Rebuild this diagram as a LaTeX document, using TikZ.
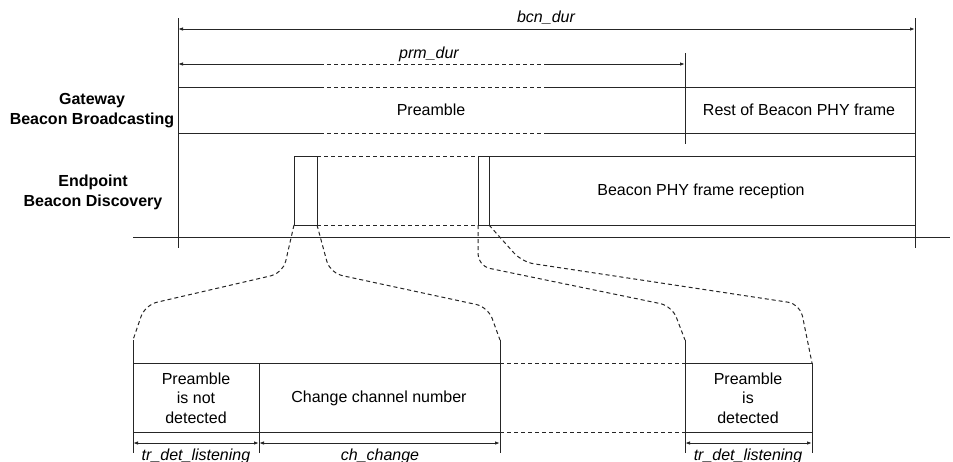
\documentclass[tikz,border=0pt]{standalone}
\usepackage{fontspec}
\setmainfont{Liberation Sans}
\usetikzlibrary{arrows.meta}
\begin{document}
\begin{tikzpicture}[x=1pt,y=-1pt,
  ln/.style={line width=1pt, draw=black!85},
  dsh/.style={ln, dash pattern=on 4pt off 3pt},
  tipl/.style={ln, {Latex[length=5pt,width=3.5pt]}-},
  tipr/.style={ln, -{Latex[length=5pt,width=3.5pt]}},
  dimarr/.style={ln, {Latex[length=5pt,width=3.5pt]}-{Latex[length=5pt,width=3.5pt]}},
  lbl/.style={font=\fontsize{16}{19.5}\selectfont, inner sep=0pt, align=center},
  ilbl/.style={lbl, font=\fontsize{16}{19.5}\selectfont\itshape},
  blbl/.style={lbl, font=\fontsize{16}{20}\selectfont\bfseries},
  brace/.style={dsh, rounded corners=12pt}]
\useasboundingbox (0,0) rectangle (953,461);
\clip (0,0) rectangle (953,461);

% main time references
\coordinate (L0) at (178,18);  \coordinate (L1) at (178,248);
\coordinate (R0) at (915,18);  \coordinate (R1) at (915,248);
\draw[ln] (L0) -- (L1);
\draw[ln] (R0) -- (R1);
\coordinate (ax0) at (133,237); \coordinate (ax1) at (950,237);
\draw[ln] (ax0) -- (ax1);

% bcn_dur
\coordinate (b0) at (178,29); \coordinate (b1) at (915,29);
\draw[dimarr] (b0) -- (b1);
\node[ilbl, anchor=base] (bcn) at (546,22) {bcn\_dur};

% prm_dur
\coordinate (p0) at (178,64); \coordinate (p1) at (320,64);
\coordinate (p2) at (545,64); \coordinate (p3) at (685,64);
\draw[tipl] (p0) -- (p1);
\draw[dsh] (p1) -- (p2);
\draw[tipr] (p2) -- (p3);
\node[ilbl, anchor=base] (prm) at (429,58) {prm\_dur};
\coordinate (pv0) at (685,53); \coordinate (pv1) at (685,144);
\draw[ln] (pv0) -- (pv1);

% gateway row
\foreach \y in {87,133}{
  \draw[ln] (178,\y) -- (320,\y);
  \draw[dsh] (320,\y) -- (545,\y);
  \draw[ln] (545,\y) -- (915,\y);
}
\node[lbl] (pre) at (431,110) {Preamble};
\node[lbl] (rest) at (799,110) {Rest of Beacon PHY frame};
\node[blbl] (gw) at (92,111) {Gateway\\Beacon Broadcasting};

% endpoint row
\node[blbl] (ep) at (93,192) {Endpoint\\Beacon Discovery};
\draw[ln] (294,156) rectangle (317,225);
\draw[dsh] (317,156) -- (478,156);
\draw[dsh] (317,225) -- (478,225);
\draw[ln] (478,156) rectangle (489,225);
\draw[ln] (489,156) rectangle (915,225);
\node[lbl] (rx) at (701,191) {Beacon PHY frame reception};

% zoom braces
\draw[brace] (294,225) -- (283,273) -- (145,305) -- (133,340);
\draw[brace] (317,225) -- (330,273) -- (488,307) -- (500,340);
\draw[brace] (478,225) -- (478,266) -- (672,306) -- (685,340);
\draw[brace] (489,225) -- (522,262) -- (800,304) -- (812,363);

% bottom detail
\draw[ln] (133,363) -- (500,363);
\draw[ln] (133,432) -- (500,432);
\draw[dsh] (500,363) -- (685,363);
\draw[dsh] (500,432) -- (685,432);
\draw[ln] (685,363) -- (812,363);
\draw[ln] (685,432) -- (812,432);
\draw[ln] (133,340) -- (133,453);
\draw[ln] (259,363) -- (259,453);
\draw[ln] (500,340) -- (500,453);
\draw[ln] (685,340) -- (685,453);
\draw[ln] (812,363) -- (812,453);

\node[lbl] (nd) at (196,398) {Preamble\\is not\\detected};
\node[lbl] (cc) at (379,398) {Change channel number};
\node[lbl] (dd) at (748,398) {Preamble\\is\\detected};

\draw[dimarr] (133,443) -- (259,443);
\draw[dimarr] (259,443) -- (500,443);
\draw[dimarr] (685,443) -- (812,443);
\node[ilbl, anchor=base] (t1) at (196,460) {tr\_det\_listening};
\node[ilbl, anchor=base] (t2) at (380,460) {ch\_change};
\node[ilbl, anchor=base] (t3) at (748,460) {tr\_det\_listening};
\end{tikzpicture}
\end{document}
